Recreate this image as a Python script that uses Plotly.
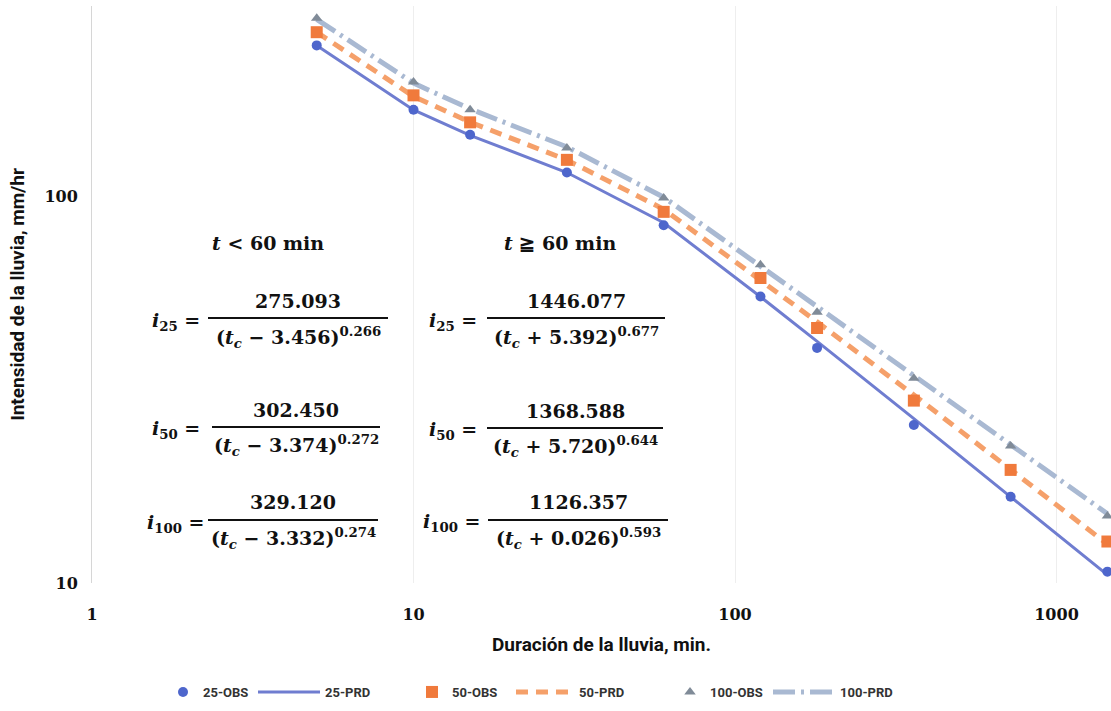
import plotly.graph_objects as go

# ---- data ----
durations = [5, 10, 15, 30, 60, 120, 180, 360, 720, 1440]
obs_25 = [245, 167, 144, 115, 84, 55, 40.5, 25.6, 16.7, 10.7]
prd_25 = [245.0, 166.9, 143.5, 115.0, 85.3, 54.9, 42.1, 26.6, 16.7, 10.5]
obs_50 = [265, 182, 155, 124, 91, 61.4, 45.6, 29.6, 19.6, 12.8]
prd_50 = [265.0, 180.8, 155.2, 123.9, 92.4, 60.9, 47.3, 30.6, 19.7, 12.6]
obs_100 = [288, 197, 167, 133, 98.8, 66.4, 50.1, 33.8, 22.6, 14.9]
prd_100 = [286.1, 195.7, 167.9, 133.9, 99.3, 65.9, 51.8, 34.3, 22.8, 15.1]

x_tickvals = [1, 10, 100, 1000]
x_ticktext = ["1", "10", "100", "1000"]
y_tickvals = [10, 100]
y_ticktext = ["10", "100"]

# ---- layout geometry (page pixels; body margin removed in post_script) ----
W, H = 1111, 711
PL, PR, PT, PB = 92, 1111, 6, 583        # plot area in page pixels
L = PL
R = W - PR
T = PT
B = H - PB


def px(x):
    return (x - PL) / (PR - PL)


def py(y):
    return (PB - y) / (PB - PT)


X_DEC = 321.5
Y_DEC = 387.0
x_range = [0, (PR - PL) / X_DEC]
y_range = [1, 1 + (PB - PT) / Y_DEC]

fig = go.Figure()

# prediction lines
fig.add_trace(go.Scatter(x=durations, y=prd_25, mode="lines", name="25-PRD", legend="legend2",
                         line=dict(color="#6f7dd0", width=3)))
fig.add_trace(go.Scatter(x=durations, y=prd_50, mode="lines", name="50-PRD", legend="legend4",
                         line=dict(color="#f5a06a", width=5, dash="12px,8px")))
fig.add_trace(go.Scatter(x=durations, y=prd_100, mode="lines", name="100-PRD", legend="legend6",
                         line=dict(color="#a9b9d2", width=5, dash="22px,6px,3px,6px")))
# observed markers
fig.add_trace(go.Scatter(x=durations, y=obs_25, mode="markers", name="25-OBS", cliponaxis=False,
                         legend="legend",
                         marker=dict(symbol="circle", size=10, color="#4e66cc")))
fig.add_trace(go.Scatter(x=durations, y=obs_50, mode="markers", name="50-OBS", cliponaxis=False,
                         legend="legend3",
                         marker=dict(symbol="square", size=12, color="#f07a3c")))
fig.add_trace(go.Scatter(x=durations, y=obs_100, mode="markers", name="100-OBS", cliponaxis=False,
                         legend="legend5",
                         marker=dict(symbol="triangle-up", size=10, color="#808b98")))

# ---- equations ----
EQF = dict(family="DejaVu Serif", size=19, color="#111111", weight="bold")
ann = []
shapes = []

ann.append(dict(text="<i>t</i> < 60 min", x=px(268), y=py(243)))
ann.append(dict(text="<i>t</i> ≧ 60 min", x=px(560), y=py(243)))

eqs = [
    # label, label_x, label_y, num, den, line_x0, line_x1, line_y, num_y, den_y
    ("<i>i</i><sub>25</sub> =", 176, 321, "275.093", "(<i>t<sub>c</sub></i> − 3.456)<sup>0.266</sup>", 208, 388, 318, 301, 337),
    ("<i>i</i><sub>50</sub> =", 176, 429, "302.450", "(<i>t<sub>c</sub></i> − 3.374)<sup>0.272</sup>", 212, 380, 427, 410, 445),
    ("<i>i</i><sub>100</sub> =", 176, 523, "329.120", "(<i>t<sub>c</sub></i> − 3.332)<sup>0.274</sup>", 208, 378, 520, 502, 538),
    ("<i>i</i><sub>25</sub> =", 453, 321, "1446.077", "(<i>t<sub>c</sub></i> + 5.392)<sup>0.677</sup>", 487, 665, 318, 301, 337),
    ("<i>i</i><sub>50</sub> =", 453, 430, "1368.588", "(<i>t<sub>c</sub></i> + 5.720)<sup>0.644</sup>", 487, 663, 428, 411, 446),
    ("<i>i</i><sub>100</sub> =", 452, 522, "1126.357", "(<i>t<sub>c</sub></i> + 0.026)<sup>0.593</sup>", 488, 668, 520, 502, 538),
]
for lab, lx, ly, num, den, x0, x1, yl, yn, yd in eqs:
    cx = (x0 + x1) / 2
    ann.append(dict(text=lab, x=px(lx), y=py(ly)))
    ann.append(dict(text=num, x=px(cx), y=py(yn)))
    ann.append(dict(text=den, x=px(cx), y=py(yd)))
    shapes.append(dict(type="line", xref="paper", yref="paper",
                       x0=px(x0), x1=px(x1), y0=py(yl), y1=py(yl),
                       line=dict(color="#111111", width=2)))

for a in ann:
    a.update(xref="paper", yref="paper", xanchor="center", yanchor="middle",
             showarrow=False, font=EQF)

TICKF = dict(family="DejaVu Serif", size=16, color="#111111", weight="bold")
TITLEF = dict(family="Roboto", size=19, color="#111111", weight="bold")
LEGF = dict(family="Roboto", size=13, color="#333333", weight="bold")


def leg(x_left, iw):
    return dict(orientation="h", x=px(x_left), y=py(692), xanchor="left", yanchor="middle",
                font=LEGF, itemwidth=iw, bgcolor="rgba(0,0,0,0)", borderwidth=0)


fig.update_layout(
    width=W, height=H,
    margin=dict(l=L, r=R, t=T, b=B, pad=0, autoexpand=False),
    paper_bgcolor="white", plot_bgcolor="white",
    annotations=ann, shapes=shapes,
    showlegend=True,
    legend=leg(163, 30),
    legend2=leg(253, 62),
    legend3=leg(412, 30),
    legend4=leg(511, 58),
    legend5=leg(670, 30),
    legend6=leg(768, 62),
    xaxis=dict(type="log", range=x_range, tickvals=x_tickvals, ticktext=x_ticktext,
               tickfont=TICKF, showgrid=True, gridcolor="#eeeeee", gridwidth=1,
               zeroline=False, showline=False, ticks="", ticklabelstandoff=20,
               title=dict(text="Duración de la lluvia, min.", font=TITLEF, standoff=14)),
    yaxis=dict(type="log", range=y_range, tickvals=y_tickvals, ticktext=y_ticktext,
               tickfont=TICKF, showgrid=False,
               zeroline=False, showline=True, linecolor="#d6d6d6", linewidth=1, ticks="",
               ticklabelstandoff=10,
               title=dict(text="Intensidad de la lluvia, mm/hr", font=TITLEF, standoff=14)),
)

fig.write_html(
    "out.html",
    config={"displayModeBar": False},
    post_script="document.body.style.margin='0px';document.body.style.overflow='hidden';",
)
